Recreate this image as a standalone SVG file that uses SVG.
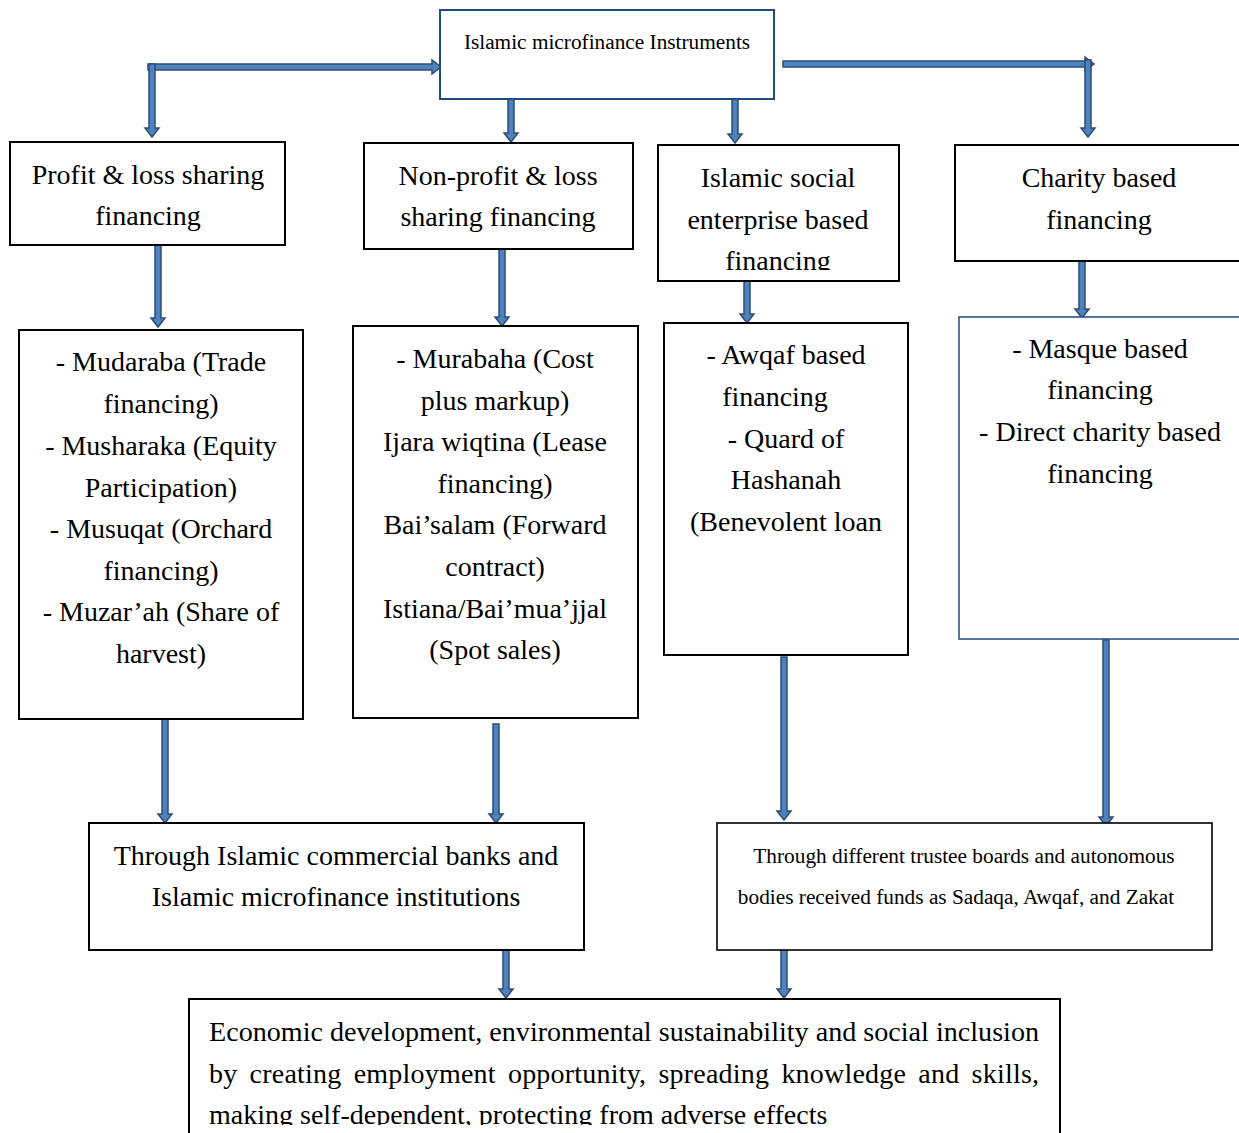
<svg xmlns="http://www.w3.org/2000/svg" width="1239" height="1133" viewBox="0 0 1239 1133">
<defs>
<style>
.box{fill:#fff;stroke:#000;stroke-width:2}
.bbox{fill:#fff;stroke:#1F4A7D;stroke-width:2}
.t{font-family:"Liberation Serif","Times New Roman",serif;font-size:28px;fill:#000;text-anchor:middle}
.ts{font-family:"Liberation Serif","Times New Roman",serif;font-size:21.3px;fill:#000;text-anchor:middle}
.arr{fill:#4F81BD;stroke:#2C4D75;stroke-width:1.5;stroke-linejoin:miter}
</style>
<clipPath id="c3"><rect x="658" y="145" width="242" height="125"/></clipPath>
<clipPath id="cb"><rect x="189" y="999" width="872" height="126"/></clipPath>
</defs>
<rect width="1239" height="1133" fill="#fff"/>

<g id="connectors">
<path class="arr" d="M148,64 V70 H432 V74 L441,67 L432,60 V64 Z"/>
<path class="arr" d="M149,64 H155 V128 H159 L152,137 L145,128 H149 Z"/>
<path class="arr" d="M783,61 V67 H1085 V71 L1094,64 L1085,57 V61 Z"/>
<path class="arr" d="M1085,60 H1091 V128 H1095 L1088,137 L1081,128 H1085 Z"/>
<path class="arr" d="M508,97 H514 V133 H518 L511,142 L504,133 H508 Z"/>
<path class="arr" d="M732,97 H738 V134 H742 L735,143 L728,134 H732 Z"/>
<path class="arr" d="M155,243 H161 V318 H165 L158,327 L151,318 H155 Z"/>
<path class="arr" d="M499,247 H505 V317 H509 L502,326 L495,317 H499 Z"/>
<path class="arr" d="M744,281 H750 V314 H754 L747,323 L740,314 H744 Z"/>
<path class="arr" d="M1079,259 H1085 V309 H1089 L1082,318 L1075,309 H1079 Z"/>
<path class="arr" d="M162,718 H168 V814 H172 L165,823 L158,814 H162 Z"/>
<path class="arr" d="M493,724 H499 V814 H503 L496,823 L489,814 H493 Z"/>
<path class="arr" d="M781,657 H787 V811 H791 L784,820 L777,811 H781 Z"/>
<path class="arr" d="M1103,640 H1109 V817 H1113 L1106,826 L1099,817 H1103 Z"/>
<path class="arr" d="M503,950 H509 V989 H513 L506,998 L499,989 H503 Z"/>
<path class="arr" d="M781,948 H787 V989 H791 L784,998 L777,989 H781 Z"/>
</g>

<g id="n-top">
<rect class="bbox" x="440" y="10" width="334" height="89"/>
<text class="ts" x="607" y="49">Islamic microfinance Instruments</text>
</g>

<g id="n-pls">
<rect class="box" x="10" y="142" width="275" height="103"/>
<text class="t" x="148" y="184">Profit &amp; loss sharing</text>
<text class="t" x="148" y="225">financing</text>
</g>

<g id="n-npls">
<rect class="box" x="364" y="143" width="269" height="106"/>
<text class="t" x="498" y="185">Non-profit &amp; loss</text>
<text class="t" x="498" y="226">sharing financing</text>
</g>

<g id="n-ise">
<rect class="box" x="658" y="145" width="241" height="136"/>
<g clip-path="url(#c3)">
<text class="t" x="778" y="187">Islamic social</text>
<text class="t" x="778" y="229">enterprise based</text>
<text class="t" x="778" y="270">financing</text>
</g>
</g>

<g id="n-charity">
<rect class="box" x="955" y="145" width="290" height="116"/>
<text class="t" x="1099" y="187">Charity based</text>
<text class="t" x="1099" y="229">financing</text>
</g>

<g id="n-pls-list">
<rect class="box" x="19" y="330" width="284" height="389"/>
<text class="t" x="161" y="371">- Mudaraba (Trade</text>
<text class="t" x="161" y="413">financing)</text>
<text class="t" x="161" y="455">- Musharaka (Equity</text>
<text class="t" x="161" y="497">Participation)</text>
<text class="t" x="161" y="538">- Musuqat (Orchard</text>
<text class="t" x="161" y="580">financing)</text>
<text class="t" x="161" y="621">- Muzar’ah (Share of</text>
<text class="t" x="161" y="663">harvest)</text>
</g>

<g id="n-npls-list">
<rect class="box" x="353" y="326" width="285" height="392"/>
<text class="t" x="495" y="368">- Murabaha (Cost</text>
<text class="t" x="495" y="410">plus markup)</text>
<text class="t" x="495" y="451">Ijara wiqtina (Lease</text>
<text class="t" x="495" y="493">financing)</text>
<text class="t" x="495" y="534">Bai’salam (Forward</text>
<text class="t" x="495" y="576">contract)</text>
<text class="t" x="495" y="618">Istiana/Bai’mua’jjal</text>
<text class="t" x="495" y="659">(Spot sales)</text>
</g>

<g id="n-ise-list">
<rect class="box" x="664" y="323" width="244" height="332"/>
<text class="t" x="786" y="364">- Awqaf based</text>
<text class="t" x="775" y="406">financing</text>
<text class="t" x="786" y="448">- Quard of</text>
<text class="t" x="786" y="489">Hashanah</text>
<text class="t" x="786" y="531">(Benevolent loan</text>
</g>

<g id="n-charity-list">
<rect class="bbox" x="959" y="317" width="290" height="322" style="stroke-width:1.5"/>
<text class="t" x="1100" y="358">- Masque based</text>
<text class="t" x="1100" y="399">financing</text>
<text class="t" x="1100" y="441">- Direct charity based</text>
<text class="t" x="1100" y="483">financing</text>
</g>

<g id="n-banks">
<rect class="box" x="89" y="823" width="495" height="127"/>
<text class="t" x="336" y="865">Through Islamic commercial banks and</text>
<text class="t" x="336" y="906">Islamic microfinance institutions</text>
</g>

<g id="n-trustee">
<rect class="box" x="717" y="823" width="495" height="127" style="stroke-width:1.6"/>
<text class="ts" x="964" y="863">Through different trustee boards and autonomous</text>
<text class="ts" x="956" y="904">bodies received funds as Sadaqa, Awqaf, and Zakat</text>
</g>

<g id="n-outcome">
<rect class="box" x="189" y="999" width="871" height="140"/>
<g clip-path="url(#cb)">
<text class="t" x="209" y="1041" style="text-anchor:start" textLength="830" lengthAdjust="spacingAndGlyphs">Economic development, environmental sustainability and social inclusion</text>
<text class="t" x="209" y="1083" style="text-anchor:start;word-spacing:5px" textLength="830" lengthAdjust="spacing">by creating employment opportunity, spreading knowledge and skills,</text>
<text class="t" x="209" y="1124" style="text-anchor:start">making self-dependent, protecting from adverse effects</text>
</g>
</g>
</svg>
